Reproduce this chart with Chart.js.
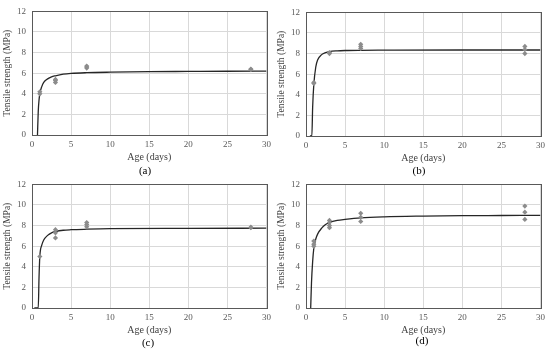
<!DOCTYPE html>
<html>
<head>
<meta charset="utf-8">
<script src="https://cdn.jsdelivr.net/npm/chart.js@4.4.1/dist/chart.umd.min.js"></script>
<style>
    body { margin: 0; background: #fff; width: 550px; height: 352px; overflow: hidden; position: relative; }
    .panel { position: absolute; width: 275px; height: 176px; }
    .caption { position: absolute; font-family: "Liberation Serif", serif; font-size: 11px; color: #000; transform: translate(-50%, -50%); }
</style>
</head>
<body>
<div class="panel" style="left:0;top:0"><canvas id="chart-a"></canvas></div>
<div class="panel" style="left:274px;top:1px"><canvas id="chart-b"></canvas></div>
<div class="panel" style="left:0;top:173px"><canvas id="chart-c"></canvas></div>
<div class="panel" style="left:274px;top:173px"><canvas id="chart-d"></canvas></div>
<div class="caption" style="left:145px;top:170px">(a)</div>
<div class="caption" style="left:419px;top:170px">(b)</div>
<div class="caption" style="left:148px;top:342px">(c)</div>
<div class="caption" style="left:422px;top:340px">(d)</div>
<script>
// Measured tensile strength (MPa) by age (days)
const testDaysA = [1, 1, 3, 3, 3, 7, 7, 7, 28, 28];
const testValsA = [4.0, 4.2, 5.1, 5.3, 5.4, 6.5, 6.6, 6.7, 6.35, 6.4];
const testDaysB = [1, 1, 3, 3, 7, 7, 7, 28, 28, 28];
const testValsB = [5.1, 5.2, 8.0, 8.1, 8.5, 8.7, 8.9, 8.0, 8.4, 8.7];
const testDaysC = [1, 3, 3, 3, 7, 7, 7, 28, 28];
const testValsC = [5.0, 6.8, 7.3, 7.6, 7.9, 8.1, 8.3, 7.8, 7.85];
const testDaysD = [1, 1, 1, 3, 3, 3, 3, 7, 7, 7, 28, 28, 28];
const testValsD = [6.0, 6.2, 6.5, 7.8, 8.0, 8.3, 8.5, 8.4, 8.8, 9.2, 8.6, 9.3, 9.9];

// Fitted curves
const fitDaysA = [0.7, 0.8, 0.9, 1, 1.25, 1.5, 2, 2.5, 3, 4, 5, 7, 10, 15, 20, 25, 30];
const fitValsA = [0, 2.3, 3.4, 4.0, 4.7, 5.1, 5.45, 5.65, 5.75, 5.9, 5.98, 6.05, 6.1, 6.15, 6.17, 6.19, 6.2];
const fitDaysB = [0.5, 0.75, 0.85, 1, 1.25, 1.5, 2, 2.5, 3, 4, 5, 7, 10, 20, 30];
const fitValsB = [0, 0, 2.8, 5.0, 6.7, 7.4, 7.9, 8.1, 8.2, 8.27, 8.3, 8.32, 8.33, 8.35, 8.35];
const fitDaysC = [0.3, 0.8, 0.9, 1, 1.25, 1.5, 2, 2.5, 3, 4, 5, 7, 10, 20, 30];
const fitValsC = [0, 0, 3.0, 5.0, 6.1, 6.6, 7.05, 7.3, 7.42, 7.55, 7.6, 7.65, 7.7, 7.73, 7.75];
const fitDaysD = [0.6, 0.7, 0.85, 1, 1.25, 1.5, 2, 2.5, 3, 4, 5, 7, 10, 15, 20, 25, 30];
const fitValsD = [0, 2.4, 4.5, 5.8, 6.7, 7.2, 7.75, 8.1, 8.3, 8.5, 8.6, 8.75, 8.85, 8.92, 8.96, 8.98, 9.0];

const xTicks = [0, 5, 10, 15, 20, 25, 30];
const yTicks = [0, 2, 4, 6, 8, 10, 12];

const serif = '"Liberation Serif", "Times New Roman", serif';

// draws the dark frame round the plot area
const frame = {
    id: 'frame',
    afterDraw(chart) {
        const a = chart.chartArea;
        const ctx = chart.ctx;
        ctx.save();
        ctx.strokeStyle = '#595959';
        ctx.lineWidth = 1;
        ctx.strokeRect(Math.round(a.left) + 0.5, Math.round(a.top) + 0.5,
            Math.round(a.right - a.left), Math.round(a.bottom - a.top));
        ctx.restore();
    }
};

function toPoints(xs, ys) {
    return xs.map((x, i) => ({ x: x, y: ys[i] }));
}

function makeChart(id, testDays, testVals, fitDays, fitVals) {
    new Chart(document.getElementById(id), {
        type: 'scatter',
        data: {
            datasets: [
                {
                    data: toPoints(testDays, testVals),
                    pointStyle: 'rectRot',
                    pointRadius: 2.6,
                    backgroundColor: '#8c8c8c',
                    borderColor: '#8c8c8c',
                    borderWidth: 0
                },
                {
                    type: 'line',
                    data: toPoints(fitDays, fitVals),
                    borderColor: '#262626',
                    borderWidth: 1.3,
                    pointRadius: 0,
                    cubicInterpolationMode: 'monotone',
                    fill: false
                }
            ]
        },
        options: {
            responsive: false,
            animation: false,
            devicePixelRatio: 1,
            layout: { padding: { top: 7, right: 8, left: 0, bottom: 13 } },
            plugins: { legend: { display: false }, tooltip: { enabled: false } },
            scales: {
                x: {
                    type: 'linear',
                    min: 0, max: 30,
                    afterBuildTicks: s => { s.ticks = xTicks.map(v => ({ value: v })); },
                    afterFit: s => { s.height = 28; },
                    grid: { color: '#d9d9d9', drawTicks: false },
                    border: { display: false },
                    ticks: { padding: 4, color: '#595959', font: { family: serif, size: 9 } },
                    title: { display: true, text: 'Age (days)', color: '#404040', padding: { top: 1, bottom: 0 }, font: { family: serif, size: 10 } }
                },
                y: {
                    min: 0, max: 12,
                    afterBuildTicks: s => { s.ticks = yTicks.map(v => ({ value: v })); },
                    afterFit: s => { s.width = 32; },
                    grid: { color: '#d9d9d9', drawTicks: false },
                    border: { display: false },
                    ticks: { padding: 6, color: '#595959', font: { family: serif, size: 9 } },
                    title: { display: true, text: 'Tensile strength (MPa)', color: '#404040', padding: { top: 2, bottom: 2 }, font: { family: serif, size: 9.5 } }
                }
            }
        },
        plugins: [frame]
    });
}

document.querySelectorAll('canvas').forEach(c => { c.width = 275; c.height = 176; });

makeChart('chart-a', testDaysA, testValsA, fitDaysA, fitValsA);
makeChart('chart-b', testDaysB, testValsB, fitDaysB, fitValsB);
makeChart('chart-c', testDaysC, testValsC, fitDaysC, fitValsC);
makeChart('chart-d', testDaysD, testValsD, fitDaysD, fitValsD);
</script>
</body>
</html>
